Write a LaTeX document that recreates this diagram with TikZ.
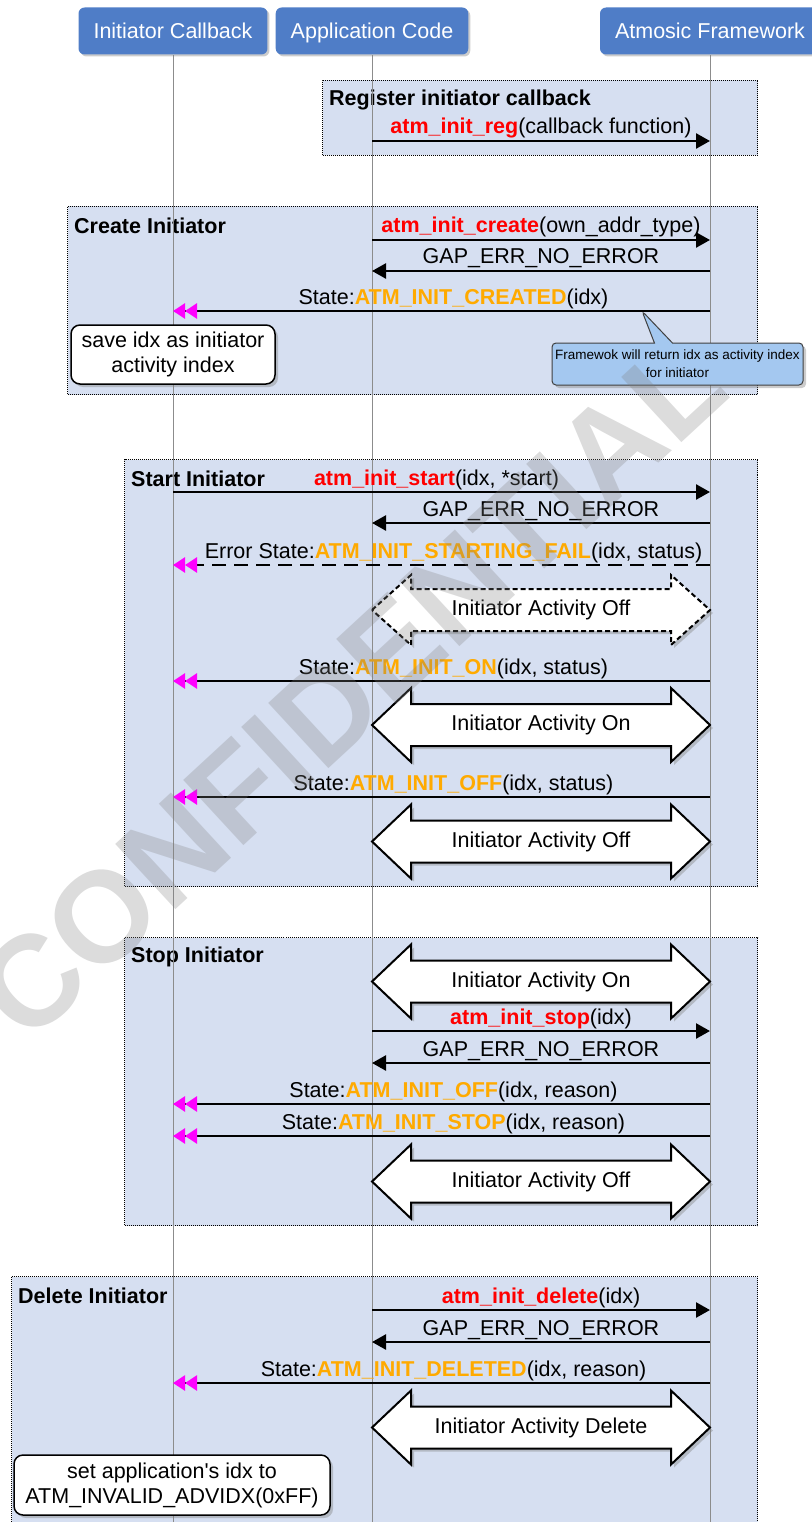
\documentclass[tikz,border=0pt]{standalone}
\usepackage{fontspec}
\setmainfont{Liberation Sans}
\usetikzlibrary{arrows.meta,shadows,shapes.callouts}
\definecolor{hdrblue}{RGB}{79,125,199}
\definecolor{grpfill}{RGB}{214,223,241}
\definecolor{fnred}{RGB}{255,0,0}
\definecolor{stateorange}{RGB}{255,170,0}
\definecolor{cbmagenta}{RGB}{255,0,255}
\definecolor{notefill}{RGB}{164,200,240}
\definecolor{lifegray}{RGB}{140,140,140}
\newcommand{\fn}[1]{\textbf{\color{fnred}#1}}
\newcommand{\st}[1]{\textbf{\color{stateorange}#1}}
\begin{document}
\begin{tikzpicture}[
    x=1pt, y=-1pt,
    every node/.style={font=\fontsize{21.5}{25}\selectfont},
    header/.style={fill=hdrblue, text=white, rounded corners=6pt,
      minimum height=47pt, inner xsep=15pt, text height=15.5pt, text depth=0pt,
      drop shadow={shadow xshift=2pt, shadow yshift=-2pt, opacity=0.4}},
    lifeline/.style={draw=lifegray, line width=1pt},
    grpbox/.style={fill=grpfill, draw=black, densely dotted, line width=1pt,
      anchor=north west, inner sep=0pt},
    grptitle/.style={font=\bfseries\fontsize{21.5}{25}\selectfont,
      anchor=west, inner sep=0pt},
    msg/.style={line width=2.5pt, -{Triangle[length=14pt,width=15pt]}},
    cbmsg/.style={line width=2.5pt,
      -{Triangle[length=12pt,width=15pt,color=cbmagenta]Triangle[length=12pt,width=15pt,color=cbmagenta]}},
    lbl/.style={anchor=base, yshift=7pt, inner sep=0pt},
    cblbl/.style={lbl, xshift=12pt},
    actarrow/.style={fill=white, draw=black, line width=2pt, line join=miter,
      drop shadow={shadow xshift=3pt, shadow yshift=-3pt, opacity=0.4}},
    notebox/.style={fill=white, draw=black, line width=1.5pt, rounded corners=9pt,
      align=center, inner sep=2pt,
      drop shadow={shadow xshift=3pt, shadow yshift=-3pt, opacity=0.4}},
    callnote/.style={rectangle callout, fill=notefill, draw=black!75, line width=1pt,
      rounded corners=4pt, align=center, inner sep=2pt, callout pointer width=18pt,
      font=\fontsize{13.5}{18}\selectfont,
      drop shadow={shadow xshift=3pt, shadow yshift=-3pt, opacity=0.4}},
    watermark/.style={font=\bfseries\fontsize{129}{129}\selectfont, text=gray,
      opacity=0.28, rotate=42.7, inner sep=0pt}
  ]
  \useasboundingbox (0,0) rectangle (811,1522);
  \def\xc{173}
  \def\xa{372}
  \def\xf{710}
  \def\hl{39}
  \def\hh{37}
  \def\sh{21}

  % groups
  \foreach \g/\xl/\yt/\w/\h/\ttl in {%
    reg/322/80/435/75/Register initiator callback,
    create/67/206/690/188/Create Initiator,
    start/124/459/633/427/Start Initiator,
    stop/124/937/633/288/Stop Initiator,
    del/11/1276/746/260/Delete Initiator%
  }{
    \node[grpbox, minimum width=\w pt, minimum height=\h pt] (grp-\g) at (\xl,\yt) {};
    \node[grptitle] (ttl-\g) at ([xshift=7pt, yshift=-20pt]grp-\g.north west) {\ttl};
  }

  % participants and lifelines
  \foreach \n/\x/\txt in {cb/\xc/Initiator Callback, app/\xa/Application Code,
    fw/\xf/Atmosic Framework} {
    \coordinate (bot-\n) at (\x,1522);
    \draw[lifeline] (\x,55) -- (bot-\n);
    \node[header] (hd-\n) at (\x,31) {\txt};
  }

  % message points on the lifelines
  \foreach \m/\y in {reg/141, create/240, gapA/271, created/311, start/492,
    gapB/523, fail/565, on/681, off/797, stop/1031, gapC/1063, offB/1104,
    stopped/1136, delete/1310, gapD/1342, deleted/1383} {
    \coordinate (cb-\m) at (\xc,\y);
    \coordinate (app-\m) at (\xa,\y);
    \coordinate (fw-\m) at (\xf,\y);
  }

  % activity arrows
  \draw[actarrow, dash pattern=on 5pt off 3pt] (\xa,610) -- (\xa+\hl,575) -- (\xa+\hl,589)
    -- (\xf-\hl,589) -- (\xf-\hl,575) -- (\xf,610) -- (\xf-\hl,645) -- (\xf-\hl,631)
    -- (\xa+\hl,631) -- (\xa+\hl,645) -- cycle;
  \node (act-fail) at (541,610) {Initiator Activity Off};
  \foreach \n/\y/\txt in {on/725/On, off/841.5/Off, stopOn/981.5/On,
    stopOff/1181.5/Off, del/1427.5/Delete} {
    \draw[actarrow] (\xa,\y) -- (\xa+\hl,\y-\hh) -- (\xa+\hl,\y-\sh)
      -- (\xf-\hl,\y-\sh) -- (\xf-\hl,\y-\hh) -- (\xf,\y) -- (\xf-\hl,\y+\hh)
      -- (\xf-\hl,\y+\sh) -- (\xa+\hl,\y+\sh) -- (\xa+\hl,\y+\hh) -- cycle;
    \node (act-\n) at (541,\y) {Initiator Activity \txt};
  }

  % register
  \draw[msg] (app-reg) -- node[lbl] {\fn{atm\_init\_reg}(callback function)} (fw-reg);

  % create
  \draw[msg] (app-create) -- node[lbl] {\fn{atm\_init\_create}(own\_addr\_type)} (fw-create);
  \draw[msg] (fw-gapA) -- node[lbl] {GAP\_ERR\_NO\_ERROR} (app-gapA);
  \draw[cbmsg] (fw-created) -- node[cblbl] {State:\st{ATM\_INIT\_CREATED}(idx)} (cb-created);
  \node[notebox, minimum width=204pt, minimum height=59pt] (note-save) at (173,354.5)
    {save idx as initiator\\activity index};
  \coordinate (ptr) at (642,311);
  \node[callnote, callout absolute pointer={(ptr)}, minimum width=251pt,
    minimum height=42pt] (note-fw) at (677.5,364)
    {Framewok will return idx as activity index\\for initiator};

  % start
  \draw[msg] (cb-start) -- node[lbl, xshift=-5pt] {\fn{atm\_init\_start}(idx, *start)} (fw-start);
  \draw[msg] (fw-gapB) -- node[lbl] {GAP\_ERR\_NO\_ERROR} (app-gapB);
  \draw[cbmsg, dash pattern=on 14pt off 8pt] (fw-fail) --
    node[cblbl] {Error State:\st{ATM\_INIT\_STARTING\_FAIL}(idx, status)} (cb-fail);
  \draw[cbmsg] (fw-on) -- node[cblbl] {State:\st{ATM\_INIT\_ON}(idx, status)} (cb-on);
  \draw[cbmsg] (fw-off) -- node[cblbl] {State:\st{ATM\_INIT\_OFF}(idx, status)} (cb-off);

  % stop
  \draw[msg] (app-stop) -- node[lbl] {\fn{atm\_init\_stop}(idx)} (fw-stop);
  \draw[msg] (fw-gapC) -- node[lbl] {GAP\_ERR\_NO\_ERROR} (app-gapC);
  \draw[cbmsg] (fw-offB) -- node[cblbl] {State:\st{ATM\_INIT\_OFF}(idx, reason)} (cb-offB);
  \draw[cbmsg] (fw-stopped) -- node[cblbl] {State:\st{ATM\_INIT\_STOP}(idx, reason)} (cb-stopped);

  % delete
  \draw[msg] (app-delete) -- node[lbl] {\fn{atm\_init\_delete}(idx)} (fw-delete);
  \draw[msg] (fw-gapD) -- node[lbl] {GAP\_ERR\_NO\_ERROR} (app-gapD);
  \draw[cbmsg] (fw-deleted) -- node[cblbl] {State:\st{ATM\_INIT\_DELETED}(idx, reason)} (cb-deleted);
  \node[notebox, minimum width=316pt, minimum height=60pt] (note-invalid) at (172,1485)
    {set application\textquotesingle s idx to\\ATM\_INVALID\_ADVIDX(0xFF)};

  \node[watermark] (wm) at (350,688) {CONFIDENTIAL};
\end{tikzpicture}
\end{document}
